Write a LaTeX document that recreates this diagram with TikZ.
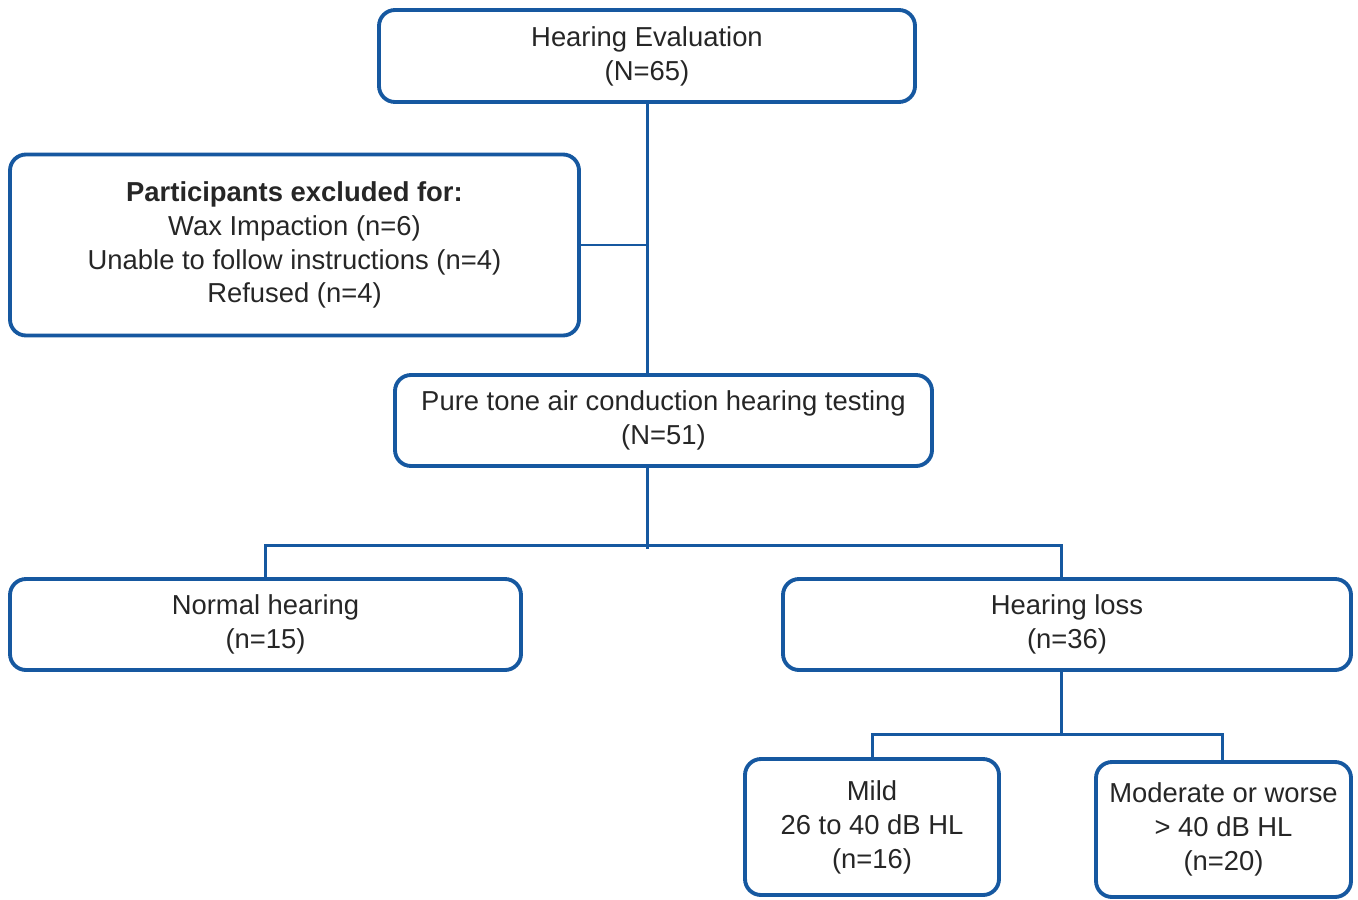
\documentclass[tikz,border=0pt]{standalone}
\usepackage{fontspec}
\setmainfont{Liberation Sans}
\usepackage{xcolor}
\definecolor{flowblue}{RGB}{22, 88, 160}
\definecolor{flowtext}{RGB}{38, 38, 38}

\begin{document}
\begin{tikzpicture}[x=0.02cm, y=-0.02cm,
    box/.style={
        draw=flowblue, line width=2.2pt, rounded corners=0.32cm,
        align=center, text=flowtext, inner sep=0pt,
        font=\fontsize{15.6}{19.3}\selectfont
    },
    link/.style={-, draw=flowblue, line width=1.7pt},
]

    \useasboundingbox (0,0) rectangle (1358,899);

    % boxes
    \node[box, minimum width=536*0.02cm, minimum height=92*0.02cm]
        (eval) at (647,56) {Hearing Evaluation\\(N=65)};
    \node[box, minimum width=569*0.02cm, minimum height=181*0.02cm]
        (excl) at (294.5,245) {\textbf{Participants excluded for:}\\Wax Impaction (n=6)\\Unable to follow instructions (n=4)\\Refused (n=4)};
    \node[box, minimum width=537*0.02cm, minimum height=91*0.02cm]
        (pure) at (663.5,420.5) {Pure tone air conduction hearing testing\\(N=51)};
    \node[box, minimum width=511*0.02cm, minimum height=91*0.02cm]
        (normal) at (265.5,624.5) {Normal hearing\\(n=15)};
    \node[box, minimum width=568*0.02cm, minimum height=91*0.02cm]
        (loss) at (1067,624.5) {Hearing loss\\(n=36)};
    \node[box, minimum width=254*0.02cm, minimum height=136*0.02cm]
        (mild) at (872,827) {Mild\\26 to 40 dB HL\\(n=16)};
    \node[box, minimum width=255*0.02cm, minimum height=135*0.02cm]
        (mod) at (1223.5,829.5) {Moderate or worse\\> 40 dB HL\\(n=20)};

    % junctions
    \coordinate (split) at (647,545);
    \coordinate (split2) at (1061,734);

    % connectors
    \draw[link] (eval.south) -- (eval.south |- pure.north);
    \draw[link] (excl.east) -- (excl.east -| eval.south);
    \draw[link] (pure.south -| split) -- ([yshift=-2pt]split);
    \draw[link] (normal.north) |- (split) -| (loss.north -| split2);
    \draw[link] (loss.south -| split2) -- (split2);
    \draw[link] (mild.north) |- (split2) -| (mod.north -| 1222,0);

\end{tikzpicture}
\end{document}
